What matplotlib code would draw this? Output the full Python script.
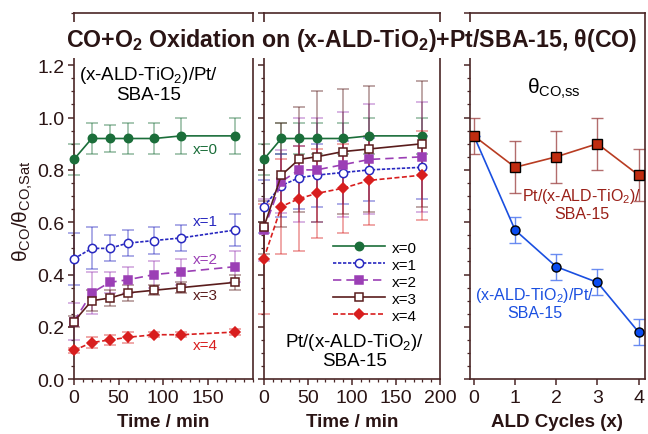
import numpy as np
import matplotlib.pyplot as plt
from matplotlib.ticker import MultipleLocator

plt.rcParams['font.family'] = ['Liberation Sans', 'DejaVu Sans']
plt.rcParams['mathtext.fontset'] = 'custom'
plt.rcParams['mathtext.rm'] = 'Liberation Sans'
plt.rcParams['mathtext.it'] = 'Liberation Sans'
plt.rcParams['mathtext.bf'] = 'Liberation Sans:bold'

# time points (min)
t = [0, 20, 40, 60, 90, 120, 180]

# left: (x-ALD-TiO2)/Pt/SBA-15
a0 = [0.84, 0.92, 0.92, 0.92, 0.92, 0.93, 0.93]
a0e = [0.06, 0.06, 0.05, 0.06, 0.06, 0.07, 0.07]
a1 = [0.46, 0.50, 0.50, 0.52, 0.53, 0.54, 0.57]
a1e = [0.10, 0.08, 0.05, 0.05, 0.05, 0.05, 0.06]
a2 = [0.22, 0.33, 0.37, 0.38, 0.40, 0.41, 0.43]
a2e = [0.07, 0.08, 0.04, 0.05, 0.05, 0.05, 0.06]
a3 = [0.22, 0.30, 0.31, 0.33, 0.34, 0.35, 0.37]
a3e = [0.02, 0.04, 0.03, 0.03, 0.02, 0.02, 0.03]
a4 = [0.11, 0.14, 0.15, 0.16, 0.17, 0.17, 0.18]
a4e = [0.01, 0.02, 0.02, 0.02, 0.01, 0.01, 0.01]

# middle: Pt/(x-ALD-TiO2)/SBA-15
b0 = [0.84, 0.92, 0.92, 0.92, 0.92, 0.93, 0.93]
b0e = [0.06, 0.06, 0.06, 0.06, 0.06, 0.07, 0.07]
b1 = [0.66, 0.74, 0.77, 0.78, 0.79, 0.80, 0.81]
b1e = [0.10, 0.12, 0.12, 0.12, 0.12, 0.12, 0.12]
b2 = [0.57, 0.755, 0.80, 0.80, 0.82, 0.84, 0.85]
b2e = [0.12, 0.12, 0.20, 0.20, 0.20, 0.21, 0.21]
b3 = [0.58, 0.78, 0.84, 0.85, 0.87, 0.88, 0.90]
b3e = [0.10, 0.20, 0.20, 0.25, 0.24, 0.24, 0.24]
b4 = [0.46, 0.66, 0.69, 0.71, 0.73, 0.76, 0.78]
b4e = [0.21, 0.18, 0.20, 0.17, 0.17, 0.17, 0.17]

# right: steady-state coverage vs ALD cycles
cyc = [0, 1, 2, 3, 4]
ss_pt_ti = [0.93, 0.81, 0.85, 0.90, 0.78]
ss_pt_ti_e = [0.07, 0.10, 0.10, 0.10, 0.10]
ss_ti_pt = [0.93, 0.57, 0.43, 0.37, 0.18]
ss_ti_pt_e = [0.0, 0.05, 0.05, 0.05, 0.05]

labels = ['x=0', 'x=1', 'x=2', 'x=3', 'x=4']
colors = ['#1b6e3a', '#2828c0', '#9b3fb5', '#5a1c1c', '#d81e1e']
styles = [dict(marker='o', ls='-', mfc='#1b6e3a'),
          dict(marker='o', ls=(0, (2, 1)), mfc='white'),
          dict(marker='s', ls=(0, (5, 3)), mfc='#9b3fb5'),
          dict(marker='s', ls='-', mfc='white'),
          dict(marker='D', ls=(0, (3, 1.5)), mfc='#d81e1e')]

axc = '#4a2626'
txtc = '#2a1414'

fig = plt.figure(figsize=(6.48, 4.35), dpi=100)
bot, top = 0.126, 0.968
ax1 = fig.add_axes([0.114, bot, 0.276, top - bot])
ax2 = fig.add_axes([0.407, bot, 0.272, top - bot])
ax3 = fig.add_axes([0.725, bot, 0.270, top - bot])


def draw(ax, ys, es):
    for y, e, c, st, lab in zip(ys, es, colors, styles, labels):
        ax.errorbar(t, y, yerr=e, fmt='none', ecolor=c, alpha=0.45,
                    capsize=4, elinewidth=1.2, capthick=1.2, clip_on=False)
        ms = 5 if st['marker'] == 'D' else 6
        ax.plot(t, y, color=c, lw=1.2, ms=ms, mec=c, mew=1.1,
                label=lab, clip_on=False, zorder=3, **st)


draw(ax1, [a0, a1, a2, a3, a4], [a0e, a1e, a2e, a3e, a4e])
draw(ax2, [b0, b1, b2, b3, b4], [b0e, b1e, b2e, b3e, b4e])

for ax in (ax1, ax2):
    ax.set_xlim(0, 200)
    ax.xaxis.set_major_locator(MultipleLocator(50))
    ax.xaxis.set_minor_locator(MultipleLocator(10))
    ax.set_xlabel('Time / min', fontsize=13.5, fontweight='bold', color=txtc, labelpad=5)
ax1.set_xticks([0, 50, 100, 150])

# right panel
ax3.errorbar(cyc, ss_pt_ti, yerr=ss_pt_ti_e, fmt='none', ecolor='#a04848',
             alpha=0.8, capsize=4, elinewidth=1.0, capthick=1.0)
ax3.errorbar(cyc, ss_ti_pt, yerr=ss_ti_pt_e, fmt='none', ecolor='#5a80f0',
             alpha=0.9, capsize=4, elinewidth=1.0, capthick=1.0)
ax3.plot(cyc, ss_ti_pt, color='#1a4fe0', lw=1.2, marker='o', ms=6.5,
         mfc='#0a4cf0', mec='black', mew=1.0, zorder=3)
ax3.plot(cyc, ss_pt_ti, color='#b83c22', lw=1.2, marker='s', ms=6.5,
         mfc='#c02c10', mec='black', mew=1.0, zorder=4)
ax3.set_xlim(-0.1, 4.15)
ax3.set_xticks(cyc)
ax3.set_xlabel('ALD Cycles (x)', fontsize=13.5, fontweight='bold', color=txtc, labelpad=5)

for ax in (ax1, ax2, ax3):
    ax.set_ylim(0, 1.4)
    ax.yaxis.set_major_locator(MultipleLocator(0.2))
    ax.yaxis.set_minor_locator(MultipleLocator(0.05))
    for s in ax.spines.values():
        s.set_color(axc)
        s.set_linewidth(1.2)
    ax.tick_params(which='major', direction='out', length=4, width=1.1,
                   color=axc, labelsize=14, labelcolor=txtc, pad=3)
    ax.tick_params(which='minor', direction='out', length=2, width=0.9, color=axc)
ax1.set_yticks(np.arange(0, 1.21, 0.2))
ax1.set_yticklabels(['0.0', '0.2', '0.4', '0.6', '0.8', '1.0', '1.2'])
ax2.tick_params(axis='y', labelleft=False)
ax3.tick_params(axis='y', labelleft=False)
ax3.tick_params(axis='x', which='minor', bottom=False)

# annotations
ax1.text(0.42, 0.808, '(x-ALD-TiO$_2$)/Pt/\nSBA-15', transform=ax1.transAxes,
         ha='center', va='center', fontsize=13.5, color='black', linespacing=1.05)
for lab, c, yv in zip(labels, colors, [0.88, 0.605, 0.46, 0.32, 0.13]):
    ax1.text(147, yv, lab, color=c, fontsize=11, ha='center', va='center')

ax2.text(0.517, 0.08, 'Pt/(x-ALD-TiO$_2$)/\nSBA-15', transform=ax2.transAxes,
         ha='center', va='center', fontsize=13.5, color='black', linespacing=1.05)
ax2.legend(loc='upper left', bbox_to_anchor=(0.36, 0.395), frameon=False,
           fontsize=11, handlelength=3.4, labelspacing=0.2, handletextpad=0.4,
           borderaxespad=0)

ax3.text(0.48, 0.795, r'$\theta_{\mathrm{CO{,}ss}}$', transform=ax3.transAxes,
         ha='center', va='center', fontsize=15, color='black')
ax3.text(0.64, 0.48, 'Pt/(x-ALD-TiO$_2$)/\nSBA-15', transform=ax3.transAxes,
         ha='center', va='center', fontsize=11.5, color='#9a2018', linespacing=1.05)
ax3.text(0.37, 0.21, '(x-ALD-TiO$_2$)/Pt/\nSBA-15', transform=ax3.transAxes,
         ha='center', va='center', fontsize=11.5, color='#1a4fe0', linespacing=1.05)

fig.text(0.035, 0.515, r'$\theta_{\mathrm{CO}}/\theta_{\mathrm{CO{,}Sat}}$', rotation=90,
         ha='center', va='center', fontsize=15, color=txtc)

fig.text(0.543, 0.906, r'CO+O$_\mathbf{2}$ Oxidation on (x-ALD-TiO$_\mathbf{2}$)+Pt/SBA-15, θ(CO)',
         ha='center', va='center', fontsize=16.7, fontweight='bold', color=txtc,
         bbox=dict(facecolor='white', edgecolor='none', pad=3), zorder=10)

fig.savefig('out.png', dpi=100)
